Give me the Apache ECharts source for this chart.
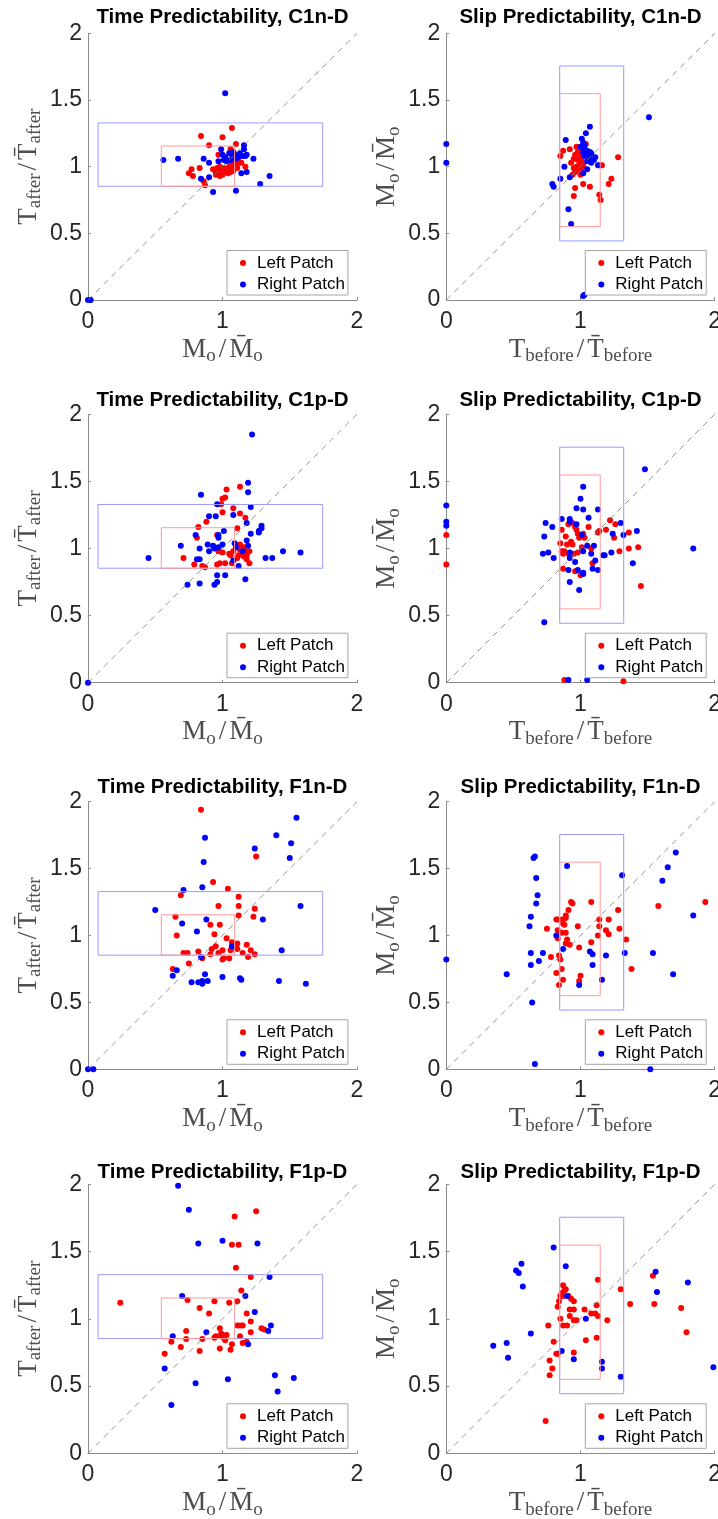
<!DOCTYPE html>
<html><head><meta charset="utf-8">
<script src="https://cdn.jsdelivr.net/npm/echarts@6/dist/echarts.min.js"></script>
<style>html,body{margin:0;padding:0;background:#fff}#c{width:718px;height:1519px}</style>
</head><body><div id="c"></div>
<script>
// ---------- data ----------
const titles = [
  'Time Predictability, C1n-D', 'Slip Predictability, C1n-D',
  'Time Predictability, C1p-D', 'Slip Predictability, C1p-D',
  'Time Predictability, F1n-D', 'Slip Predictability, F1n-D',
  'Time Predictability, F1p-D', 'Slip Predictability, F1p-D'
];
const seriesNames = ['Left Patch', 'Right Patch'];
const xTicks = [0, 1, 2];
const yTicks = [0, 0.5, 1, 1.5, 2];
const diagonal = [[0, 0], [2, 2]];
// rectangles: [xmin, xmax, ymin, ymax]
const timeBlueRect = [0.075, 1.745, 0.853, 1.328];
const timeRedRect = [0.545, 1.09, 0.853, 1.155];
const slipBlueRect = [0.845, 1.322, 0.443, 1.755];
const slipRedRect = [0.845, 1.147, 0.55, 1.548];

const c1nTimeLeft = [[0.84,1.23],[1.0,1.22],[1.07,1.29],[0.9,1.16],[1.1,1.17],[1.06,1.13],[0.97,1.09],[0.75,0.95],[0.77,0.98],[0.78,0.93],[0.83,0.99],[0.86,0.89],[0.87,0.86],[1.17,1.0],[1.14,1.03],[0.93,0.98],[0.95,0.96],[0.97,0.97],[0.99,0.95],[1.0,0.97],[0.96,0.99],[0.98,1.0],[1.01,0.99],[1.03,0.98],[1.05,1.0],[1.07,1.02],[1.09,1.0],[1.1,1.02],[1.11,0.99],[1.08,0.97],[1.06,0.96],[1.04,0.95],[1.02,0.96],[1.12,1.03],[1.1,1.06],[1.13,1.08],[1.09,1.04],[1.06,0.99],[0.95,0.94],[0.98,0.93],[1.0,0.94]];
const c1nTimeRight = [[1.02,1.55],[0.56,1.05],[0.67,1.06],[0.86,1.06],[0.9,1.03],[0.84,0.91],[0.9,0.92],[0.93,0.81],[1.1,0.82],[1.28,0.87],[1.35,0.93],[1.23,1.06],[1.18,0.96],[1.14,0.95],[1.16,1.16],[1.16,1.13],[0.99,1.13],[0.97,1.04],[1.0,1.09],[1.02,1.07],[1.05,1.1],[1.07,1.09],[1.08,1.11],[1.11,1.09],[1.13,1.1],[1.17,1.08],[1.18,1.09],[1.06,1.05],[1.03,1.04],[1.1,1.06],[1.12,1.07],[1.15,1.08],[1.01,1.05],[0.0,0.0],[0.02,0.0]];
const c1nSlipLeft = [[0.87,1.12],[0.92,1.13],[0.85,1.08],[1.28,1.07],[1.16,1.01],[1.14,1.01],[1.23,0.91],[1.21,0.87],[0.96,0.84],[1.02,0.87],[1.07,0.85],[0.95,0.78],[1.14,0.79],[1.15,0.75],[0.97,1.15],[0.98,1.11],[0.96,1.09],[1.0,1.08],[0.98,1.05],[1.01,1.04],[0.99,1.01],[0.97,1.0],[0.95,0.99],[0.98,0.98],[0.96,0.96],[1.01,0.99],[1.02,1.01],[0.95,1.06],[0.93,1.03],[1.01,1.14],[0.94,0.94],[1.0,0.94],[1.04,1.17]];
const c1nSlipRight = [[0,1.17],[0,1.03],[1.51,1.37],[0.79,0.87],[0.8,0.85],[0.85,0.91],[0.88,1.0],[0.89,1.2],[0.92,0.92],[0.91,0.68],[0.93,0.57],[1.02,0.03],[1.03,0.04],[1.02,0.95],[1.05,0.98],[1.13,1.01],[1.07,1.3],[1.04,1.25],[1.01,1.21],[1.02,1.18],[1.03,1.16],[1.0,1.15],[1.03,1.13],[1.05,1.12],[1.07,1.11],[1.08,1.1],[1.06,1.09],[1.03,1.08],[1.07,1.06],[1.1,1.05],[1.05,1.04],[1.08,1.03],[1.11,1.07],[1.02,1.11]];
const c1pTimeLeft = [[1.13,1.46],[1.03,1.44],[1.0,1.37],[1.02,1.38],[0.99,1.33],[1.08,1.3],[1.0,1.27],[1.13,1.26],[0.88,1.2],[1.17,1.23],[0.82,1.16],[1.11,1.15],[0.81,1.08],[0.71,0.93],[0.79,0.88],[0.85,0.87],[0.87,0.86],[0.96,0.88],[0.98,0.89],[1.02,0.89],[1.07,0.89],[1.2,0.89],[0.97,0.98],[1.0,0.97],[1.05,0.96],[1.06,0.95],[1.11,0.93],[1.1,1.03],[1.11,1.01],[1.13,1.03],[1.16,1.01],[1.13,0.99],[1.15,0.97],[1.17,0.98],[1.18,0.95],[1.16,0.94],[1.18,0.92],[1.12,0.95],[1.08,0.98],[1.2,0.98],[0.96,1.1]];
const c1pTimeRight = [[1.22,1.85],[1.19,1.49],[1.19,1.42],[1.21,1.31],[0.84,1.4],[0.96,1.33],[1.08,1.25],[0.9,1.24],[0.95,1.24],[1.18,1.19],[1.29,1.17],[1.29,1.15],[1.27,1.13],[1.27,1.12],[1.21,1.11],[1.18,1.06],[1.19,1.02],[1.01,1.13],[0.97,1.1],[0.97,1.08],[0.8,1.1],[0.69,1.02],[0.45,0.93],[0.83,1.0],[0.81,0.92],[0.83,0.92],[0.89,1.03],[0.9,0.98],[0.93,1.02],[0.94,1.0],[0.97,1.01],[1.0,1.03],[1.32,0.93],[1.37,0.93],[1.45,0.98],[1.58,0.97],[1.12,0.87],[1.08,0.91],[1.15,0.98],[1.17,0.77],[0.74,0.73],[0.83,0.74],[0.94,0.73],[0.96,0.75],[0.96,0.8],[1.02,0.8],[1.09,1.04],[1.1,1.01],[0,0]];
const c1pSlipLeft = [[0,1.1],[0,0.88],[1.32,0.01],[0.88,0.02],[1.45,0.72],[1.43,1.01],[1.36,1.0],[1.36,1.12],[1.29,0.98],[1.22,1.21],[1.26,1.18],[1.19,1.14],[1.25,1.08],[1.14,1.13],[1.13,1.12],[1.06,1.16],[0.85,1.04],[0.86,1.14],[0.87,0.85],[0.96,0.83],[1.0,0.8],[1.09,0.89],[1.08,1.0],[0.91,1.18],[0.94,1.19],[0.96,1.16],[0.97,1.14],[0.98,1.11],[1.0,1.1],[0.99,1.08],[1.02,1.11],[1.03,1.08],[0.93,1.05],[0.94,1.03],[0.9,1.03],[0.86,0.98],[0.88,0.98],[0.91,0.96],[0.95,0.96],[0.98,0.97],[0.89,1.09],[1.01,1.01],[0.87,0.96]];
const c1pSlipRight = [[0,1.32],[0,1.2],[0,1.17],[1.48,1.59],[1.84,1.0],[0.73,0.45],[0.91,0.02],[1.05,0.02],[1.02,1.46],[1.0,1.37],[0.97,1.3],[1.02,1.29],[1.13,1.29],[1.06,1.23],[0.86,1.22],[0.92,1.22],[0.92,1.2],[0.74,1.19],[0.79,1.16],[0.73,1.09],[0.72,0.96],[0.76,0.97],[0.8,0.93],[0.97,1.18],[1.01,1.1],[1.05,1.02],[1.02,0.98],[1.08,0.96],[1.1,1.02],[1.11,0.91],[1.09,0.85],[1.13,0.84],[1.17,0.95],[1.18,0.95],[1.23,0.97],[1.24,1.11],[1.3,1.19],[1.32,1.1],[1.42,1.13],[1.39,0.89],[0.92,0.97],[0.92,0.93],[0.96,0.9],[0.91,0.84],[0.98,0.84],[1.02,0.82],[1.02,0.81],[0.92,0.75],[0.99,0.69]];
const f1nTimeLeft = [[0.84,1.94],[1.25,1.59],[0.93,1.4],[1.04,1.35],[0.69,1.3],[1.12,1.29],[0.97,1.22],[1.12,1.22],[1.24,1.2],[1.23,1.14],[1.12,1.15],[0.65,1.14],[0.66,1.0],[0.91,1.08],[0.98,1.08],[0.94,1.01],[1.03,0.98],[0.95,0.92],[0.92,0.9],[0.91,0.86],[0.97,0.87],[1.0,0.89],[1.0,0.82],[1.01,0.83],[1.05,0.83],[1.06,0.89],[1.07,0.95],[1.08,0.91],[1.11,0.94],[1.1,0.91],[1.11,0.9],[1.15,0.87],[1.18,0.93],[1.21,0.89],[1.24,0.86],[1.19,0.84],[0.71,0.87],[0.74,0.87],[0.75,0.79],[0.82,0.88],[0.85,0.83],[0.63,0.75]];
const f1nTimeRight = [[1.55,1.88],[1.4,1.75],[1.51,1.69],[1.5,1.58],[0.87,1.73],[1.24,1.65],[0.86,1.55],[0.85,1.36],[0.71,1.34],[0.5,1.19],[1.58,1.22],[0.7,1.09],[0.88,1.12],[1.3,1.12],[0.81,1.03],[1.07,0.92],[0.84,0.84],[1.44,0.89],[0.66,0.74],[0.63,0.7],[0.77,0.65],[0.82,0.65],[0.85,0.64],[0.85,0.66],[0.87,0.71],[0.89,0.66],[1.0,0.69],[1.14,0.67],[1.13,0.68],[1.42,0.66],[1.62,0.64],[0,0],[0.04,0]];
const f1nSlipLeft = [[1.93,1.25],[1.58,1.22],[0.75,1.05],[0.78,0.84],[0.82,1.12],[0.83,1.12],[0.83,1.04],[0.83,0.98],[0.82,0.72],[0.84,0.63],[0.87,0.67],[0.84,0.85],[0.85,0.82],[0.86,0.75],[0.86,1.12],[0.87,1.09],[0.86,1.02],[0.88,1.08],[0.89,1.15],[0.89,1.13],[0.91,1.19],[0.89,1.02],[0.9,0.97],[0.89,0.94],[0.92,0.93],[0.93,1.25],[0.94,1.24],[0.98,1.07],[0.99,0.91],[1.0,0.7],[0.99,0.66],[1.08,1.25],[1.08,0.95],[1.14,1.12],[1.14,1.07],[1.13,1.0],[1.19,1.04],[1.21,1.12],[1.21,1.01],[1.28,1.19],[1.29,1.05],[1.34,0.97],[1.38,0.75]];
const f1nSlipRight = [[0,0.82],[0.45,0.71],[0.64,0.5],[0.66,0.04],[1.52,0],[0.65,1.58],[0.66,1.59],[0.67,1.43],[0.68,1.3],[0.67,1.24],[0.63,1.14],[0.62,1.07],[0.63,0.87],[0.63,0.78],[0.69,0.81],[0.72,0.87],[0.9,1.52],[0.82,1.0],[0.87,0.9],[0.99,0.63],[1.07,0.88],[1.09,0.86],[1.09,0.78],[1.16,0.67],[1.19,0.85],[1.31,1.45],[1.33,0.87],[1.54,0.87],[1.61,1.41],[1.65,1.51],[1.71,1.62],[1.84,1.15],[1.69,0.71]];
const f1pTimeLeft = [[0.24,1.12],[1.25,1.8],[1.09,1.76],[1.07,1.55],[1.12,1.55],[1.1,1.38],[1.21,1.31],[1.14,1.21],[0.74,1.14],[0.83,1.08],[0.94,1.13],[1.05,1.12],[1.11,1.13],[0.9,1.04],[1.18,1.04],[1.21,0.98],[1.11,0.95],[1.13,0.95],[1.15,0.95],[1.21,0.9],[1.29,0.93],[1.31,0.92],[1.13,0.87],[1.18,0.83],[1.15,0.82],[1.07,0.81],[1.06,0.77],[0.73,0.91],[0.73,0.85],[0.62,0.83],[0.69,0.79],[0.83,0.76],[0.85,0.85],[0.57,0.74],[0.94,0.86],[0.95,0.87],[0.98,0.93],[0.99,0.89],[0.99,0.87],[1.0,0.88],[1.01,0.86],[1.03,0.88],[1.02,0.84],[0.98,0.78]];
const f1pTimeRight = [[0.67,1.99],[0.75,1.81],[0.82,1.56],[1.0,1.58],[1.26,1.56],[1.35,1.31],[0.7,1.17],[1.17,1.17],[1.24,1.05],[1.36,0.95],[1.34,0.91],[0.88,0.9],[0.63,0.87],[1.19,0.81],[0.57,0.63],[0.8,0.52],[1.04,0.55],[1.39,0.58],[1.53,0.56],[1.41,0.46],[0.62,0.36]];
const f1pSlipLeft = [[0.74,0.24],[1.13,1.29],[1.3,1.22],[1.37,1.11],[1.54,1.32],[1.55,1.11],[1.75,1.08],[1.79,0.9],[1.2,0.99],[1.12,0.86],[1.12,1.1],[1.13,1.02],[1.11,1.04],[1.08,1.04],[1.03,1.07],[1.04,0.84],[0.85,1.0],[0.76,0.95],[0.8,0.83],[0.82,0.74],[0.83,0.74],[0.77,0.69],[0.79,0.63],[0.77,0.58],[0.95,0.75],[0.87,0.95],[0.9,0.95],[0.92,1.02],[0.95,1.07],[0.95,0.99],[0.97,0.99],[0.87,1.25],[0.86,1.19],[0.88,1.21],[0.89,1.22],[0.85,1.17],[0.84,1.13],[0.83,1.09],[0.87,1.17],[0.91,1.17],[0.93,1.15],[0.95,1.13],[0.92,1.07]];
const f1pSlipRight = [[0.8,1.53],[0.89,1.39],[0.56,1.41],[0.52,1.36],[0.54,1.34],[0.57,1.24],[0.63,0.89],[0.35,0.8],[0.45,0.82],[0.46,0.71],[0.9,1.17],[1.04,1.0],[0.86,0.76],[0.95,0.7],[1.16,0.68],[1.16,0.63],[1.3,0.57],[1.56,1.35],[1.57,1.2],[1.8,1.27],[1.99,0.64]];

const panelLeft = [c1nTimeLeft, c1nSlipLeft, c1pTimeLeft, c1pSlipLeft, f1nTimeLeft, f1nSlipLeft, f1pTimeLeft, f1pSlipLeft];
const panelRight = [c1nTimeRight, c1nSlipRight, c1pTimeRight, c1pSlipRight, f1nTimeRight, f1nSlipRight, f1pTimeRight, f1pSlipRight];

// ---------- layout ----------
const colLeft = [88, 446.3];
const colWidth = [269, 268.4];
const rowTop = [33.3, 414.3, 801.7, 1184.3];
const rowBottom = [300, 682.7, 1069.3, 1453.3];
const titleTop = [7, 390, 777, 1162];

const tickFont = 'Liberation Sans, Arial, Helvetica, sans-serif';
const serif = 'Liberation Serif, DejaVu Serif, Times New Roman, serif';
const nameColor = '#4d4d4d';
const nameRich = {
  m: {fontFamily: serif, fontSize: 27, color: nameColor, lineHeight: 30, verticalAlign: 'top'},
  sl: {fontFamily: serif, fontSize: 27, color: nameColor, lineHeight: 30, verticalAlign: 'top', padding: [0, 3, 0, 3]},
  s: {fontFamily: serif, fontSize: 19, color: nameColor, lineHeight: 20, padding: [11, 0, 0, 0], verticalAlign: 'top'}
};
const timeX = '{m|M}{s|o}{sl|/}{m|M\u0304}{s|o}';
const timeY = '{m|T}{s|after}{sl|/}{m|T\u0304}{s|after}';
const slipX = '{m|T}{s|before}{sl|/}{m|T\u0304}{s|before}';
const slipY = '{m|M}{s|o}{sl|/}{m|M\u0304}{s|o}';

function rectPath(r) {
  return [[r[0], r[2]], [r[1], r[2]], [r[1], r[3]], [r[0], r[3]], [r[0], r[2]]];
}

const grid = [], xAxis = [], yAxis = [], series = [], title = [], legend = [];
for (let i = 0; i < 8; i++) {
  const row = Math.floor(i / 2), col = i % 2;
  const isTime = col === 0;
  const left = colLeft[col], width = colWidth[col];
  const top = rowTop[row], height = rowBottom[row] - rowTop[row];
  grid.push({left: left, top: top, width: width, height: height, containLabel: false, outerBoundsMode: 'none'});
  const axisCommon = {
    type: 'value', min: 0, max: 2, gridIndex: i,
    splitLine: {show: false},
    axisLine: {show: true, onZero: false, lineStyle: {color: '#8a8a8a', width: 1}},
    axisTick: {show: true, inside: true, length: 3, lineStyle: {color: '#8a8a8a'}},
    axisLabel: {color: '#262626', fontFamily: tickFont, fontSize: 23, showMaxLabel: true, showMinLabel: true, hideOverlap: false},
    nameLocation: 'middle',
    nameTextStyle: {rich: nameRich}
  };
  xAxis.push(Object.assign({}, axisCommon, {
    interval: 1, name: isTime ? timeX : slipX, nameGap: 36,
    axisLabel: Object.assign({}, axisCommon.axisLabel, {margin: 10, formatter: v => xTicks.includes(v) ? String(v) : ''})
  }));
  yAxis.push(Object.assign({}, axisCommon, {
    interval: 0.5, name: isTime ? timeY : slipY, nameGap: 43, nameRotate: 90,
    axisLabel: Object.assign({}, axisCommon.axisLabel, {margin: 6, formatter: v => yTicks.includes(v) ? String(v) : ''})
  }));
  title.push({
    text: titles[i], left: left + width / 2, top: titleTop[row], textAlign: 'center', padding: 0,
    textStyle: {fontFamily: tickFont, fontWeight: 'bold', fontSize: 20.5, color: '#000'}
  });
  legend.push({
    data: seriesNames, orient: 'vertical', left: left + 139, top: rowBottom[row] - 49.5,
    icon: 'circle', itemWidth: 6, itemHeight: 6, itemGap: 4.5,
    padding: [4, 3, 2, 13], borderColor: '#a6a6a6', borderWidth: 1, backgroundColor: '#fff',
    textStyle: {fontFamily: tickFont, fontSize: 17, color: '#000', padding: [0, 0, 0, 6]}, selectedMode: false
  });
  const blueRect = isTime ? timeBlueRect : slipBlueRect;
  const redRect = isTime ? timeRedRect : slipRedRect;
  const lineBase = {type: 'line', xAxisIndex: i, yAxisIndex: i, symbol: 'none', silent: true, animation: false};
  series.push(Object.assign({}, lineBase, {name: 'diag' + i, data: diagonal,
    lineStyle: {color: '#7a7a7a', width: 0.8, type: [6, 5]}}));
  series.push(Object.assign({}, lineBase, {name: 'blueBox' + i, data: rectPath(blueRect),
    lineStyle: {color: '#9a9aff', width: 1}}));
  series.push(Object.assign({}, lineBase, {name: 'redBox' + i, data: rectPath(redRect),
    lineStyle: {color: '#ff9a9a', width: 1}}));
  series.push({type: 'scatter', name: seriesNames[0], xAxisIndex: i, yAxisIndex: i, data: panelLeft[i],
    symbolSize: 6, itemStyle: {color: '#ff0000', opacity: 1}, animation: false});
  series.push({type: 'scatter', name: seriesNames[1], xAxisIndex: i, yAxisIndex: i, data: panelRight[i],
    symbolSize: 6, itemStyle: {color: '#0000ff', opacity: 1}, animation: false});
}

const chart = echarts.init(document.getElementById('c'), null, {renderer: 'canvas'});
chart.setOption({
  backgroundColor: '#fff', animation: false,
  color: ['#ff0000', '#0000ff'],
  title: title, legend: legend, grid: grid, xAxis: xAxis, yAxis: yAxis, series: series
});
</script></body></html>
